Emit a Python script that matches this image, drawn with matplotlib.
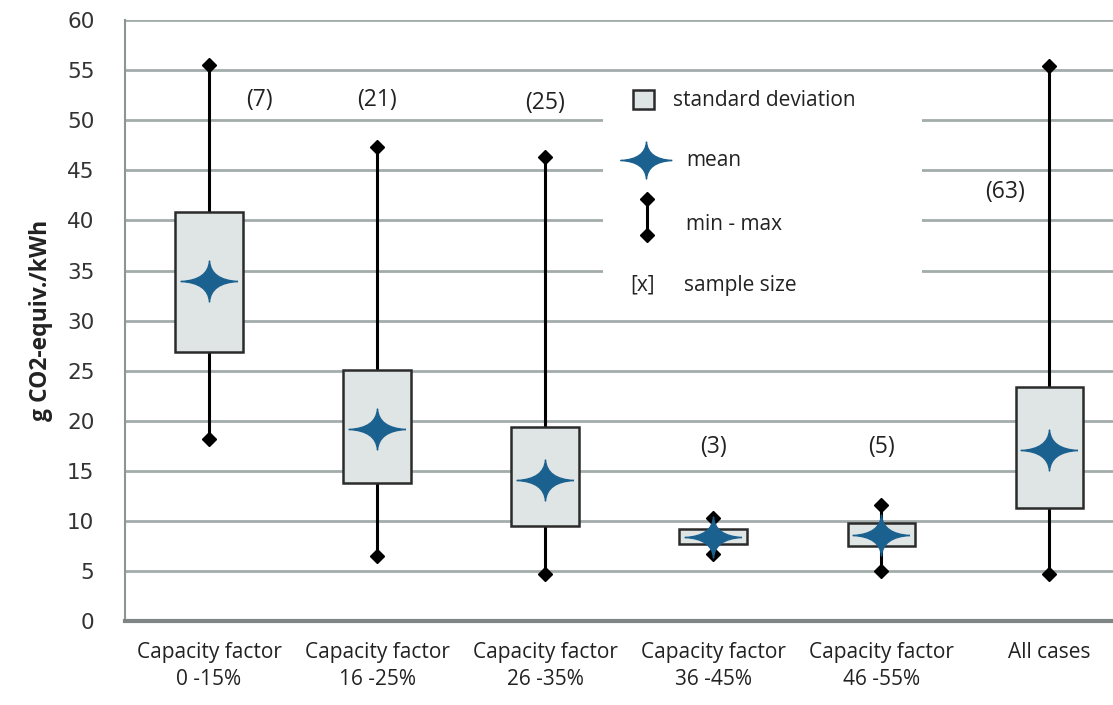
import numpy as np
import matplotlib.pyplot as plt
from matplotlib.path import Path
from matplotlib.patches import Rectangle

# data (g CO2-equiv./kWh)
categories = ['Capacity factor\n0 -15%', 'Capacity factor\n16 -25%', 'Capacity factor\n26 -35%',
              'Capacity factor\n36 -45%', 'Capacity factor\n46 -55%', 'All cases']
sd_upper = [40.8, 25.1, 19.4, 9.2, 9.8, 23.4]
sd_lower = [26.9, 13.8, 9.5, 7.7, 7.5, 11.3]
means = [34.0, 19.2, 14.1, 8.4, 8.6, 17.1]
mins = [18.2, 6.5, 4.7, 6.7, 5.0, 4.7]
maxs = [55.5, 47.3, 46.3, 10.3, 11.6, 55.4]
sample_n = [7, 21, 25, 3, 5, 63]

# where the "(n)" labels sit: x offset from box centre, y in data units
lab_dx = [0.3, 0.0, 0.0, 0.0, 0.0, -0.26]
lab_y = [52.0, 52.0, 51.7, 17.4, 17.4, 42.8]

box_fill = '#dfe4e4'
box_edge = '#2b2b2b'
star_col = '#1b6190'
grid_col = '#a3abab'
txt_font = ['Open Sans', 'DejaVu Sans']

# four pointed star for the mean
star = Path([(1, 0), (0.05, 0.05), (0, 0.72), (-0.05, 0.05), (-1, 0),
             (-0.05, -0.05), (0, -0.72), (0.05, -0.05), (1, 0)],
            [Path.MOVETO, Path.CURVE3, Path.CURVE3, Path.CURVE3, Path.CURVE3,
             Path.CURVE3, Path.CURVE3, Path.CURVE3, Path.CURVE3])

fig = plt.figure(figsize=(11.13, 7.05), dpi=100)
ax = fig.add_axes([0.1123, 0.119, 0.8877, 0.8525])

x = np.arange(len(categories))

ax.vlines(x, mins, maxs, color='black', lw=2.2, zorder=3)
ax.plot(x, mins, 'D', color='black', ms=7, zorder=4)
ax.plot(x, maxs, 'D', color='black', ms=7, zorder=4)
ax.bar(x, np.array(sd_upper) - np.array(sd_lower), bottom=sd_lower, width=0.4,
       color=box_fill, edgecolor=box_edge, lw=1.8, zorder=5)
ax.plot(x, means, ls='none', marker=star, ms=41, color=star_col, zorder=6)

for i, n in enumerate(sample_n):
    ax.text(x[i] + lab_dx[i], lab_y[i], '(%d)' % n, ha='center', va='center',
            fontsize=16.5, family=txt_font, color='#222222', zorder=7)

ax.set_ylim(0, 60)
ax.set_xlim(-0.5, 5.38)
ax.set_yticks(np.arange(0, 61, 5))
ax.set_xticks(x)
ax.set_xticklabels(categories, family=txt_font, fontsize=15, color='#222222',
                   linespacing=1.4)
ax.tick_params(axis='x', length=0, pad=15)
ax.tick_params(axis='y', length=0, pad=22, labelsize=15.5, labelcolor='#333333')
ax.set_ylabel('g CO2-equiv./kWh', fontsize=16.5, fontweight='bold', family=txt_font,
              labelpad=10, color='#222222')

ax.yaxis.grid(True, color=grid_col, lw=2)
ax.set_axisbelow(True)
for s in ['top', 'right']:
    ax.spines[s].set_visible(False)
ax.spines['left'].set_color('#8c9494')
ax.spines['left'].set_linewidth(1.5)
ax.spines['bottom'].set_color('#7d8585')
ax.spines['bottom'].set_linewidth(3)

# legend drawn by hand in axes fraction
tr = ax.transAxes
ax.add_patch(Rectangle((0.484, 0.517), 0.323, 0.391, transform=tr, facecolor='white',
                       edgecolor='none', zorder=2))
ax.add_patch(Rectangle((0.514, 0.852), 0.021, 0.031, transform=tr, facecolor=box_fill,
                       edgecolor=box_edge, lw=1.8, zorder=6))
ax.text(0.555, 0.867, 'standard deviation', transform=tr, va='center', fontsize=15,
        family=txt_font, color='#222222', zorder=7)
ax.plot([0.527], [0.767], transform=tr, ls='none', marker=star, ms=37, color=star_col, zorder=6)
ax.text(0.568, 0.767, 'mean', transform=tr, va='center', fontsize=15,
        family=txt_font, color='#222222', zorder=7)
ax.plot([0.528, 0.528], [0.703, 0.642], transform=tr, color='black', lw=2.2,
        marker='D', ms=7, zorder=6)
ax.text(0.568, 0.660, 'min - max', transform=tr, va='center', fontsize=15,
        family=txt_font, color='#222222', zorder=7)
ax.text(0.511, 0.559, '[x]', transform=tr, va='center', fontsize=15,
        family=txt_font, color='#222222', zorder=7)
ax.text(0.566, 0.559, 'sample size', transform=tr, va='center', fontsize=15,
        family=txt_font, color='#222222', zorder=7)

fig.savefig('out.png', dpi=100)
